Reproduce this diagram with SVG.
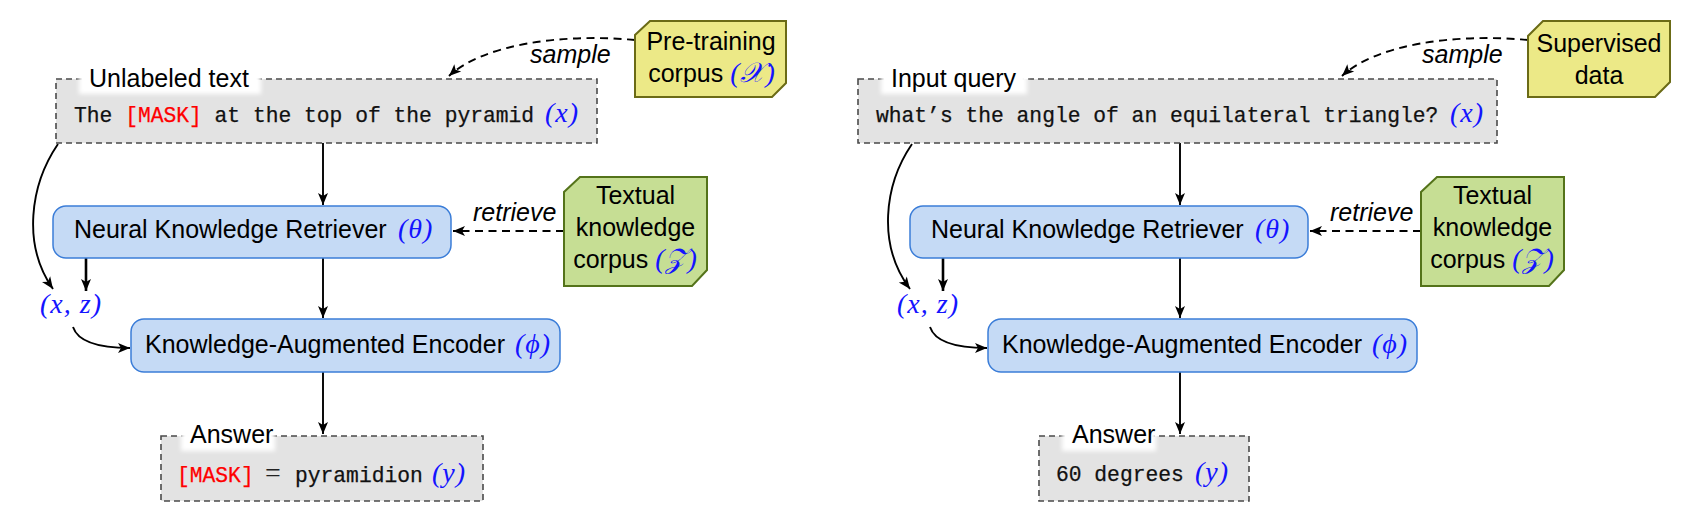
<svg xmlns="http://www.w3.org/2000/svg" width="1704" height="526" viewBox="0 0 1704 526">
<style>
.dbox{fill:#e3e3e3;stroke:#4a4a4a;stroke-width:1.6;stroke-dasharray:6 4}
.mbox{fill:#c5daf5;stroke:#3b7dd8;stroke-width:1.5}
.ybox{fill:#ece987;stroke:#6b6b16;stroke-width:2}
.gbox{fill:#c6de94;stroke:#54731a;stroke-width:2}
.lblbg{fill:#fff}
text{white-space:pre}
.sans{font-family:"Liberation Sans",Arial,sans-serif;font-size:25px;fill:#000}
.it{font-style:italic}
.mono{font-family:"Liberation Mono","Courier New",monospace;font-size:21.3px;fill:#111;stroke:#111;stroke-width:0.25}
.red{fill:#ff0000;stroke:#ff0000}
.math{font-family:"Liberation Serif","DejaVu Serif",serif;font-style:italic;font-size:28px;fill:#1414ff;letter-spacing:1px}
.eq{font-family:"Liberation Serif","DejaVu Serif",serif;font-size:28px;fill:#222}
.arr{fill:none;stroke:#000;stroke-width:1.9;marker-end:url(#ah)}
.thick{stroke-width:2.6}
.dash{stroke-dasharray:8 5.5}
</style>
<defs>
<marker id="ah" markerUnits="userSpaceOnUse" markerWidth="16" markerHeight="14" viewBox="-14 -7 16 14" refX="0" refY="0" orient="auto">
<path d="M0,0 L-12,-5 L-9,0 L-12,5 Z" fill="#000"/>
</marker>
<filter id="soft" x="-10%" y="-30%" width="120%" height="160%"><feGaussianBlur stdDeviation="2"/></filter>
</defs>

<g id="connectors">
<!-- left panel -->
<path class="arr dash" d="M635,40 C560,33 482,45 449,76"/>
<path class="arr dash" d="M564,231 L453,231"/>
<path class="arr" d="M323,143 L323,205"/>
<path class="arr" d="M323,258 L323,318"/>
<path class="arr" d="M323,372 L323,434"/>
<path class="arr thick" d="M86,258 L86,291"/>
<path class="arr" d="M58,144 C30,185 22,245 53,289"/>
<path class="arr" d="M73,327 C78,342 100,348 130,348"/>
<!-- right panel -->
<path class="arr dash" d="M1528,40 C1453,33 1375,45 1342,76"/>
<path class="arr dash" d="M1421,231 L1310,231"/>
<path class="arr" d="M1180,143 L1180,205"/>
<path class="arr" d="M1180,258 L1180,318"/>
<path class="arr" d="M1180,372 L1180,434"/>
<path class="arr thick" d="M943,258 L943,291"/>
<path class="arr" d="M912,144 C884,185 877,245 910,289"/>
<path class="arr" d="M930,327 C935,342 957,348 987,348"/>
</g>

<g id="labels">
<text class="sans it" x="530" y="63">sample</text>
<text class="sans it" x="473" y="221">retrieve</text>
<text class="sans it" x="1422" y="63">sample</text>
<text class="sans it" x="1330" y="221">retrieve</text>
</g>

<g id="input-left">
<rect class="dbox" x="56" y="79" width="541" height="64"/>
<rect class="lblbg" x="79" y="64" width="182" height="30" filter="url(#soft)"/>
<text class="sans" x="89" y="87">Unlabeled text</text>
<text y="122"><tspan class="mono" x="74">The </tspan><tspan class="mono red">[MASK]</tspan><tspan class="mono"> at the top of the pyramid</tspan><tspan class="math" x="545">(x)</tspan></text>
</g>

<g id="pretraining-corpus">
<polygon class="ybox" points="650,21 786,21 786,83 772,97 635,97 635,35"/>
<text class="sans" x="711" y="50" text-anchor="middle">Pre-training</text>
<text x="712" y="82" text-anchor="middle"><tspan class="sans">corpus </tspan><tspan class="math">(𝒳)</tspan></text>
</g>

<g id="retriever-left">
<rect class="mbox" x="53" y="206" width="398" height="52" rx="13"/>
<text y="238"><tspan class="sans" x="74">Neural Knowledge Retriever </tspan><tspan class="math" x="398">(θ)</tspan></text>
</g>

<g id="textual-corpus-left">
<polygon class="gbox" points="580,177 707,177 707,270 692,286 564,286 564,192"/>
<text class="sans" x="635.5" y="204" text-anchor="middle">Textual</text>
<text class="sans" x="635.5" y="236" text-anchor="middle">knowledge</text>
<text x="635.5" y="268" text-anchor="middle"><tspan class="sans">corpus </tspan><tspan class="math">(𝒵)</tspan></text>
</g>

<g id="xz-left">
<text class="math" x="40" y="313">(x, z)</text>
</g>

<g id="encoder-left">
<rect class="mbox" x="131" y="319" width="429" height="53" rx="13"/>
<text y="353"><tspan class="sans" x="145">Knowledge-Augmented Encoder </tspan><tspan class="math" x="515">(ϕ)</tspan></text>
</g>

<g id="answer-left">
<rect class="dbox" x="161" y="436" width="322" height="65"/>
<rect class="lblbg" x="181" y="421" width="94" height="30" filter="url(#soft)"/>
<text class="sans" x="190" y="443">Answer</text>
<text y="482"><tspan class="mono red" x="177">[MASK]</tspan><tspan class="eq" x="265">=</tspan><tspan class="mono" x="295">pyramidion</tspan><tspan class="math" x="432">(y)</tspan></text>
</g>

<g id="input-right">
<rect class="dbox" x="858" y="79" width="639" height="64"/>
<rect class="lblbg" x="881" y="64" width="146" height="30" filter="url(#soft)"/>
<text class="sans" x="891" y="87">Input query</text>
<text y="122"><tspan class="mono" x="876">what’s the angle of an equilateral triangle?</tspan><tspan class="math" x="1450">(x)</tspan></text>
</g>

<g id="supervised-data">
<polygon class="ybox" points="1543,21 1670,21 1670,82 1655,97 1528,97 1528,36"/>
<text class="sans" x="1599" y="52" text-anchor="middle">Supervised</text>
<text class="sans" x="1599" y="84" text-anchor="middle">data</text>
</g>

<g id="retriever-right">
<rect class="mbox" x="910" y="206" width="398" height="52" rx="13"/>
<text y="238"><tspan class="sans" x="931">Neural Knowledge Retriever </tspan><tspan class="math" x="1255">(θ)</tspan></text>
</g>

<g id="textual-corpus-right">
<polygon class="gbox" points="1437,177 1564,177 1564,270 1549,286 1421,286 1421,192"/>
<text class="sans" x="1492.5" y="204" text-anchor="middle">Textual</text>
<text class="sans" x="1492.5" y="236" text-anchor="middle">knowledge</text>
<text x="1492.5" y="268" text-anchor="middle"><tspan class="sans">corpus </tspan><tspan class="math">(𝒵)</tspan></text>
</g>

<g id="xz-right">
<text class="math" x="897" y="313">(x, z)</text>
</g>

<g id="encoder-right">
<rect class="mbox" x="988" y="319" width="429" height="53" rx="13"/>
<text y="353"><tspan class="sans" x="1002">Knowledge-Augmented Encoder </tspan><tspan class="math" x="1372">(ϕ)</tspan></text>
</g>

<g id="answer-right">
<rect class="dbox" x="1039" y="436" width="210" height="65"/>
<rect class="lblbg" x="1062" y="421" width="94" height="30" filter="url(#soft)"/>
<text class="sans" x="1072" y="443">Answer</text>
<text y="481"><tspan class="mono" x="1056">60 degrees</tspan><tspan class="math" x="1195">(y)</tspan></text>
</g>
</svg>
